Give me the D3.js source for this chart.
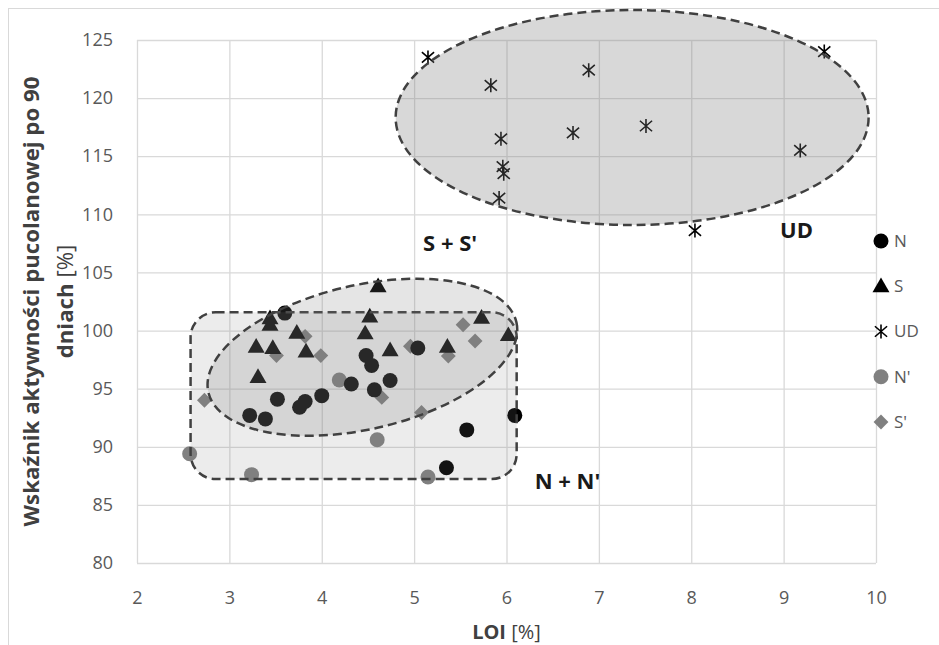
<!DOCTYPE html>
<meta charset="utf-8">
<style>
    body { margin: 0; background: #fff; }
    text { font-family: "Open Sans", "Noto Sans", sans-serif; }
    .tick text { font-size: 18px; fill: #595959; }
    .grid line { stroke: #d9d9d9; stroke-width: 1.3px; }
    .grid path { display: none; }
    .zone { stroke: #404040; stroke-width: 2.5px; stroke-dasharray: 9 5; }
    .zone-label { font-weight: bold; font-size: 22px; fill: #1a1a1a; text-anchor: middle; }
    .legend text { font-size: 17px; fill: #595959; }
</style>
<script src="https://d3js.org/d3.v7.min.js"></script>
<body>
<div id="chart"></div>
<script>
// values: [LOI %, activity index %]
var seriesN = [[3.60, 101.5], [4.32, 95.4], [3.52, 94.1], [4.00, 94.4], [3.82, 93.9], [3.76, 93.4],
    [3.22, 92.7], [3.39, 92.4], [5.04, 98.5], [4.48, 97.85], [4.54, 97.0], [4.74, 95.7], [4.57, 94.9],
    [6.09, 92.7], [5.57, 91.45], [5.35, 88.2]];
var seriesS = [[3.44, 101.05], [3.44, 100.5], [3.29, 98.6], [3.47, 98.5], [3.73, 99.8], [3.83, 98.2],
    [3.31, 96.0], [4.47, 99.75], [4.61, 103.8], [4.52, 101.2], [4.74, 98.3], [5.73, 101.1],
    [5.36, 98.6], [6.02, 99.6]];
var seriesUD = [[5.15, 123.5], [5.83, 121.1], [6.89, 122.4], [5.94, 116.5], [6.72, 117.0], [7.51, 117.6],
    [5.96, 114.1], [5.97, 113.5], [5.92, 111.4], [9.44, 124.0], [9.18, 115.5], [8.04, 108.6]];
var seriesN2 = [[4.19, 95.75], [2.57, 89.4], [3.24, 87.6], [4.60, 90.6], [5.15, 87.4]];
var seriesS2 = [[3.82, 99.5], [3.51, 97.85], [3.99, 97.85], [2.73, 94.0], [4.96, 98.65], [5.53, 100.5],
    [5.66, 99.1], [5.37, 97.8], [4.65, 94.25], [5.08, 92.95]];

var seriesNames = ["N", "S", "UD", "N'", "S'"];
var xTicks = [2, 3, 4, 5, 6, 7, 8, 9, 10];
var yTicks = [80, 85, 90, 95, 100, 105, 110, 115, 120, 125];

// grouping outlines, in data units
var zoneUD = { cx: 7.36, cy: 118.33, rx: 2.56, ry: 9.25 };
var zoneS = { cx: 4.44, cy: 97.7, rx: 1.71, ry: 6.2, angle: -12.8 };
var zoneN = { x0: 2.58, x1: 6.11, y0: 87.22, y1: 101.57 };
var zoneLabels = [["S + S'", 5.39, 107.5], ["UD", 9.14, 108.65], ["N + N'", 6.66, 87.0]];

var width = 939, height = 645;
var margin = { left: 137, right: 63, top: 40, bottom: 82 };

var svg = d3.select("#chart").append("svg")
    .attr("width", width)
    .attr("height", height);

// chart frame (runs off the picture on the right and bottom)
svg.append("rect")
    .attr("x", 8.5).attr("y", 8.5)
    .attr("width", 1000).attr("height", 1000)
    .attr("fill", "none").attr("stroke", "#d9d9d9");

var x = d3.scaleLinear().domain([2, 10]).range([margin.left, width - margin.right]);
var y = d3.scaleLinear().domain([80, 125]).range([height - margin.bottom, margin.top]);

svg.append("g")
    .attr("class", "grid")
    .attr("transform", "translate(0," + y(80) + ")")
    .call(d3.axisBottom(x).tickValues(xTicks).tickSize(-(y(80) - y(125))).tickPadding(28))
    .call(function (g) { g.selectAll("text").attr("dy", "0.71em"); });

svg.append("g")
    .attr("class", "grid")
    .attr("transform", "translate(" + x(2) + ",0)")
    .call(d3.axisLeft(y).tickValues(yTicks).tickSize(-(x(10) - x(2))).tickPadding(24));

// markers
var plot = svg.append("g");

function asterisk(sel, s) {
    sel.append("path")
        .attr("d", "M0," + (-s) + "V" + s +
            "M" + (-s * 0.87) + "," + (-s * 0.75) + "L" + (s * 0.87) + "," + (s * 0.75) +
            "M" + (-s * 0.87) + "," + (s * 0.75) + "L" + (s * 0.87) + "," + (-s * 0.75))
        .attr("stroke", "#000").attr("stroke-width", 1.6).attr("fill", "none");
}

var triangle = d3.symbol().type(d3.symbolTriangle).size(125);
var diamond = d3.symbol().type(d3.symbolSquare).size(110);

plot.selectAll(".n2").data(seriesN2).enter().append("circle")
    .attr("cx", function (d) { return x(d[0]); })
    .attr("cy", function (d) { return y(d[1]); })
    .attr("r", 7.5).attr("fill", "#808080");

plot.selectAll(".s2").data(seriesS2).enter().append("path")
    .attr("d", diamond)
    .attr("transform", function (d) { return "translate(" + x(d[0]) + "," + y(d[1]) + ") rotate(45)"; })
    .attr("fill", "#808080");

plot.selectAll(".s").data(seriesS).enter().append("path")
    .attr("d", triangle)
    .attr("transform", function (d) { return "translate(" + x(d[0]) + "," + (y(d[1]) + 1) + ")"; })
    .attr("fill", "#000");

plot.selectAll(".n").data(seriesN).enter().append("circle")
    .attr("cx", function (d) { return x(d[0]); })
    .attr("cy", function (d) { return y(d[1]); })
    .attr("r", 7.5).attr("fill", "#000");

plot.selectAll(".ud").data(seriesUD).enter().append("g")
    .attr("transform", function (d) { return "translate(" + x(d[0]) + "," + y(d[1]) + ")"; })
    .each(function () { asterisk(d3.select(this), 7); });

// translucent group outlines sit on top of the markers
svg.append("rect")
    .attr("class", "zone")
    .attr("x", x(zoneN.x0)).attr("y", y(zoneN.y1))
    .attr("width", x(zoneN.x1) - x(zoneN.x0))
    .attr("height", y(zoneN.y0) - y(zoneN.y1))
    .attr("rx", 25).attr("ry", 25)
    .attr("fill", "rgba(127,127,127,0.15)");

svg.append("ellipse")
    .attr("class", "zone")
    .attr("transform", "translate(" + x(zoneS.cx) + "," + y(zoneS.cy) + ") rotate(" + zoneS.angle + ")")
    .attr("rx", x(zoneS.cx + zoneS.rx) - x(zoneS.cx))
    .attr("ry", y(zoneS.cy) - y(zoneS.cy + zoneS.ry))
    .attr("fill", "rgba(127,127,127,0.2)");

svg.append("ellipse")
    .attr("class", "zone")
    .attr("cx", x(zoneUD.cx)).attr("cy", y(zoneUD.cy))
    .attr("rx", x(zoneUD.cx + zoneUD.rx) - x(zoneUD.cx))
    .attr("ry", y(zoneUD.cy) - y(zoneUD.cy + zoneUD.ry))
    .attr("fill", "rgba(127,127,127,0.3)");

svg.selectAll(".zone-label").data(zoneLabels).enter().append("text")
    .attr("class", "zone-label")
    .attr("x", function (d) { return x(d[1]); })
    .attr("y", function (d) { return y(d[2]); })
    .attr("dy", "0.35em")
    .text(function (d) { return d[0]; });

// legend
var legend = svg.append("g").attr("class", "legend");
var legendY = d3.scalePoint().domain(seriesNames).range([241, 422]);
seriesNames.forEach(function (name) {
    var g = legend.append("g").attr("transform", "translate(881," + legendY(name) + ")");
    if (name === "N") g.append("circle").attr("r", 7.5).attr("fill", "#000");
    if (name === "S") g.append("path").attr("d", triangle).attr("transform", "translate(0,1)").attr("fill", "#000");
    if (name === "UD") asterisk(g, 7);
    if (name === "N'") g.append("circle").attr("r", 7.5).attr("fill", "#808080");
    if (name === "S'") g.append("path").attr("d", diamond).attr("transform", "rotate(45)").attr("fill", "#808080");
    g.append("text").attr("x", 13).attr("dy", "0.35em").text(name);
});

// axis titles
var xTitle = svg.append("text")
    .attr("x", (x(2) + x(10)) / 2).attr("y", 632).attr("dy", "0.35em")
    .attr("text-anchor", "middle").style("font-size", "20px").attr("fill", "#404040");
xTitle.append("tspan").style("font-weight", "bold").text("LOI");
xTitle.append("tspan").text(" [%]");

var yTitle = svg.append("text")
    .attr("transform", "translate(39," + (y(80) + y(125)) / 2 + ") rotate(-90)")
    .attr("text-anchor", "middle").style("font-size", "22px").attr("fill", "#404040");
var line1 = yTitle.append("tspan").attr("x", 0)
    .style("font-weight", "bold").text("Wskaźnik aktywności pucolanowej po 90");
var line2 = yTitle.append("tspan").attr("x", 0).attr("dy", "34px");
line2.append("tspan").style("font-weight", "bold").text("dniach");
line2.append("tspan").text(" [%]");

// size the title so its first line is as long as in the original
var fit = 22 * 450 / line1.node().getComputedTextLength();
yTitle.style("font-size", fit + "px");
</script>
</body>
